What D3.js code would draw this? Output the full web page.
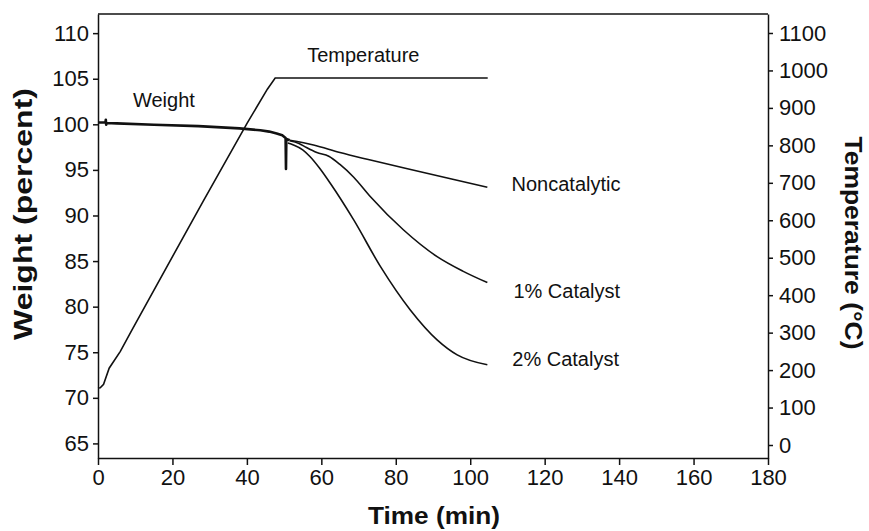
<!DOCTYPE html>
<html>
<head>
<meta charset="utf-8">
<script src="https://cdn.jsdelivr.net/npm/d3@7"></script>
<style>
  body { margin: 0; background: #fff; }
  svg { font-family: "Liberation Sans", Arial, sans-serif; }
  .domain, .tick line { stroke: #111; stroke-width: 1.5px; }
</style>
</head>
<body>
<div id="vis"></div>
<script>
// data: [time (min), value]
const weightCommon = [[0, 100.2], [2.0, 100.2], [2.1, 100.5], [2.2, 99.95], [2.3, 100.15],
  [5, 100.1], [15, 99.95], [27, 99.8], [38, 99.55], [43.6, 99.35], [46, 99.2], [48, 99.0],
  [49.5, 98.8], [50.4, 98.5], [50.5, 95.1], [50.6, 98.4], [51.5, 98.25]];
const noncatalytic = [[51.5, 98.25], [57.9, 97.73], [65, 96.9], [73.2, 96.08], [86.6, 94.8],
  [95, 94.0], [104.6, 93.09]];
const catalyst1 = [[51.5, 98.2], [54, 97.9], [56, 97.45], [58.8, 96.9], [62, 96.5],
  [65, 95.6], [68.7, 94.2], [73.2, 92.06], [82.1, 88.41], [91.1, 85.49], [98, 83.9], [104.6, 82.64]];
const catalyst2 = [[51, 97.95], [52.5, 97.73], [55, 97.2], [57, 96.44], [59.5, 95.2],
  [62.4, 93.53], [68.7, 89.51], [75.9, 84.39], [83.9, 79.64], [91.1, 76.36], [96.5, 74.71], [104.6, 73.62]];
const temperature = [[0, 152], [0.6, 153], [1.5, 162], [3, 205], [6, 250], [9.1, 307],
  [28.2, 650], [40, 858], [45.5, 950], [47.6, 980], [104.7, 980]];

const xTicks = [0, 20, 40, 60, 80, 100, 120, 140, 160, 180];
const yTicks = [65, 70, 75, 80, 85, 90, 95, 100, 105, 110];
const tTicks = [0, 100, 200, 300, 400, 500, 600, 700, 800, 900, 1000, 1100];

// annotation labels: [text, time, weight]
const labels = [["Temperature", 56.2, 106.85], ["Weight", 9.4, 101.9], ["Noncatalytic", 111.1, 92.72],
  ["1% Catalyst", 111.6, 80.96], ["2% Catalyst", 111.3, 73.5]];

const WIDTH = 869;
const HEIGHT = 531;
const MARGINS = {left: 98, right: 101, top: 14, bottom: 73};

const svg = d3.select("#vis")
              .append("svg")
                .attr("width", WIDTH)
                .attr("height", HEIGHT);

const X_SCALE = d3.scaleLinear()
                    .domain([0, 180])
                    .range([MARGINS.left, WIDTH - MARGINS.right]);
const Y_SCALE = d3.scaleLinear()
                    .domain([63.4, 112.1])
                    .range([HEIGHT - MARGINS.bottom, MARGINS.top]);
const T_SCALE = d3.scaleLinear()
                    .domain([-34.7, 1150.7])
                    .range([HEIGHT - MARGINS.bottom, MARGINS.top]);

// top frame line
svg.append("line")
    .attr("x1", X_SCALE(0)).attr("x2", X_SCALE(180))
    .attr("y1", MARGINS.top).attr("y2", MARGINS.top)
    .attr("stroke", "#111").attr("stroke-width", 1.5);

const axes = [];
axes.push(svg.append("g")
    .attr("transform", "translate(0," + (HEIGHT - MARGINS.bottom) + ")")
    .call(d3.axisBottom(X_SCALE).tickValues(xTicks).tickSize(7).tickSizeOuter(0).tickPadding(4)));

axes.push(svg.append("g")
    .attr("transform", "translate(" + MARGINS.left + ",0)")
    .call(d3.axisLeft(Y_SCALE).tickValues(yTicks).tickSize(5).tickSizeOuter(0).tickPadding(4)));

axes.push(svg.append("g")
    .attr("transform", "translate(" + (WIDTH - MARGINS.right) + ",0)")
    .call(d3.axisRight(T_SCALE).tickValues(tTicks).tickFormat(d3.format("d"))
            .tickSize(5).tickSizeOuter(0).tickPadding(6)));

axes.forEach(g => g.attr("font-family", "Liberation Sans, Arial, sans-serif")
                   .attr("font-size", "22px")
                   .selectAll("text").attr("fill", "#111"));

const wLine = d3.line().x(d => X_SCALE(d[0])).y(d => Y_SCALE(d[1]));
const wCurve = d3.line().x(d => X_SCALE(d[0])).y(d => Y_SCALE(d[1])).curve(d3.curveMonotoneX);
const tLine = d3.line().x(d => X_SCALE(d[0])).y(d => T_SCALE(d[1]));

svg.append("path")
    .attr("d", tLine(temperature))
    .attr("fill", "none").attr("stroke", "#111").attr("stroke-width", 1.6);

[noncatalytic, catalyst1, catalyst2].forEach(s => {
  svg.append("path")
      .attr("d", wCurve(s))
      .attr("fill", "none").attr("stroke", "#111").attr("stroke-width", 1.6);
});

svg.append("path")
    .attr("d", wLine(weightCommon))
    .attr("fill", "none").attr("stroke", "#111").attr("stroke-width", 2.6)
    .attr("stroke-linejoin", "round");

svg.selectAll(".lbl")
    .data(labels)
    .enter()
    .append("text")
      .attr("x", d => X_SCALE(d[1]))
      .attr("y", d => Y_SCALE(d[2]))
      .attr("font-size", "20px")
      .attr("fill", "#111")
      .text(d => d[0]);

svg.append("text")
    .attr("x", 434)
    .attr("y", 524)
    .attr("text-anchor", "middle")
    .attr("font-size", "24px").attr("font-weight", "bold").attr("fill", "#111")
    .attr("textLength", 132).attr("lengthAdjust", "spacingAndGlyphs")
    .text("Time (min)");

svg.append("text")
    .attr("transform", "translate(32,214) rotate(-90)")
    .attr("text-anchor", "middle")
    .attr("font-size", "25px").attr("font-weight", "bold").attr("fill", "#111")
    .attr("textLength", 252).attr("lengthAdjust", "spacingAndGlyphs")
    .text("Weight (percent)");

svg.append("text")
    .attr("transform", "translate(845,243) rotate(90)")
    .attr("text-anchor", "middle")
    .attr("font-size", "23px").attr("font-weight", "bold").attr("fill", "#111")
    .attr("textLength", 213).attr("lengthAdjust", "spacingAndGlyphs")
    .text("Temperature (\u00B0C)");
</script>
</body>
</html>
